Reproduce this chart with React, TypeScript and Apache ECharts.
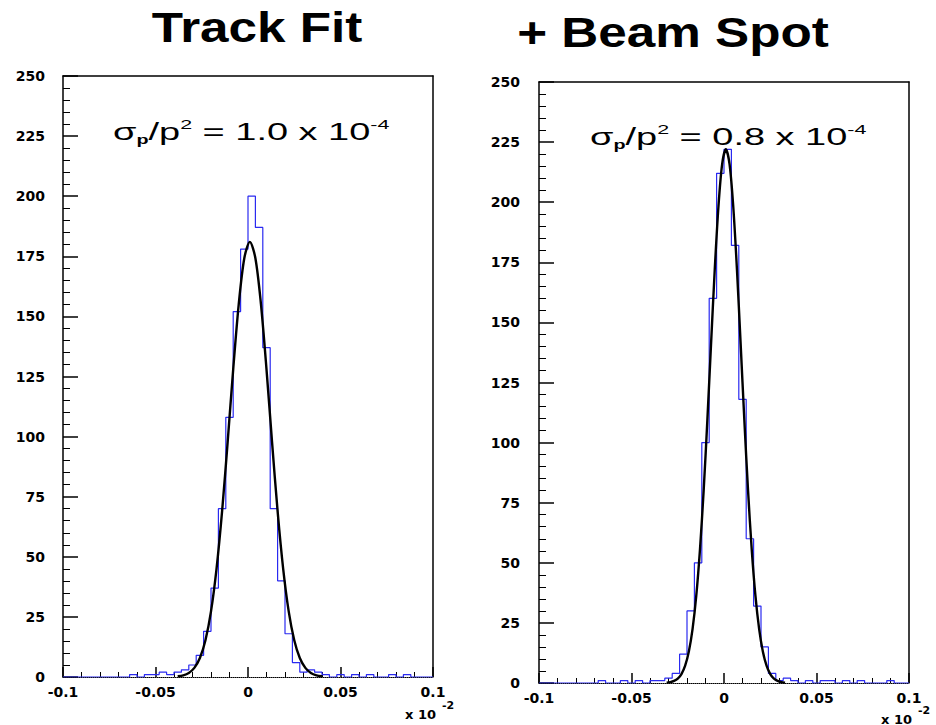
import React, { useEffect, useRef } from "react";
import * as echarts from "echarts";

// Histogram binning (x in units of 10^-2)
const BIN_START = -0.1;
const BIN_WIDTH = 0.004;

// Left panel: Track Fit histogram counts (50 bins)
const leftCounts = [
  0, 0, 0, 0, 0, 0, 0, 0, 0, 1,
  0, 1, 1, 2, 1, 2, 3, 5, 9, 19,
  37, 70, 108, 152, 178, 200, 187, 137, 70, 40,
  18, 6, 2, 3, 2, 1, 0, 1, 0, 1,
  0, 1, 0, 0, 1, 0, 1, 0, 0, 0,
];

// Right panel: + Beam Spot histogram counts (50 bins)
const rightCounts = [
  0, 0, 0, 0, 0, 0, 0, 0, 1, 0,
  0, 1, 0, 1, 0, 1, 1, 2, 4, 12,
  30, 50, 100, 160, 212, 222, 182, 118, 60, 32,
  15, 4, 1, 2, 1, 0, 1, 0, 1, 1,
  0, 1, 0, 1, 0, 0, 0, 1, 0, 0,
];

// Gaussian fit curves
const leftFitX = [
  -0.038, -0.035, -0.032, -0.029, -0.026, -0.023, -0.02, -0.017, -0.014, -0.011,
  -0.008, -0.005, -0.002, 0.001, 0.004, 0.007, 0.01, 0.013, 0.016, 0.019,
  0.022, 0.025, 0.028, 0.031, 0.034, 0.037, 0.04,
];
const leftFitY = [
  0.3, 0.7, 1.7, 3.8, 7.9, 15.3, 27.3, 45.1, 69, 97.7,
  128, 155.1, 174.2, 181, 174.2, 155.1, 128, 97.7, 69, 45.1,
  27.3, 15.3, 7.9, 3.8, 1.7, 0.7, 0.3,
];
const rightFitX = [
  -0.031, -0.029, -0.027, -0.025, -0.023, -0.021, -0.019, -0.017, -0.015, -0.013,
  -0.011, -0.009, -0.007, -0.005, -0.003, -0.001, 0.001, 0.003, 0.005, 0.007,
  0.009, 0.011, 0.013, 0.015, 0.017, 0.019, 0.021, 0.023, 0.025, 0.027,
  0.029, 0.031, 0.033,
];
const rightFitY = [
  0.16, 0.38, 0.86, 1.8, 3.7, 7.2, 13.1, 22.4, 36.2, 55.4,
  80, 109.3, 141, 172, 198.2, 215.8, 222, 215.8, 198.2, 172,
  141, 109.3, 80, 55.4, 36.2, 22.4, 13.1, 7.2, 3.7, 1.8,
  0.86, 0.38, 0.16,
];

const titles = ["Track Fit", "+ Beam Spot"];
const resolutions = ["1.0", "0.8"];

const X_MIN = -0.1;
const X_MAX = 0.1;
const X_INTERVAL = 0.05;
const Y_MIN = 0;
const Y_MAX = 250;
const Y_INTERVAL = 25;

function histPoints(counts: number[]) {
  const pts = counts.map((c, i) => [+(BIN_START + i * BIN_WIDTH).toFixed(4), c]);
  pts.push([+(BIN_START + counts.length * BIN_WIDTH).toFixed(4), counts[counts.length - 1]]);
  return pts;
}

const labelFont = {
  fontFamily: "DejaVu Sans",
  fontWeight: "bold" as const,
  fontSize: 14,
  color: "#000",
};

function mainX(gridIndex: number) {
  return {
    type: "value",
    gridIndex,
    min: X_MIN,
    max: X_MAX,
    interval: X_INTERVAL,
    position: "bottom",
    axisLine: { show: true, onZero: false, lineStyle: { color: "#000", width: 1, type: "dotted" } },
    axisTick: { show: true, inside: true, length: 10, lineStyle: { color: "#000", width: 1.5 } },
    minorTick: { show: true, splitNumber: 5, length: 5, lineStyle: { color: "#000", width: 1 } },
    axisLabel: { ...labelFont, margin: 8 },
    splitLine: { show: false },
  };
}
function frameX(gridIndex: number) {
  return {
    type: "value",
    gridIndex,
    min: X_MIN,
    max: X_MAX,
    position: "top",
    axisLine: { show: true, onZero: false, lineStyle: { color: "#000", width: 1.5 } },
    axisTick: { show: false },
    axisLabel: { show: false },
    splitLine: { show: false },
  };
}
function mainY(gridIndex: number, margin: number) {
  return {
    type: "value",
    gridIndex,
    min: Y_MIN,
    max: Y_MAX,
    interval: Y_INTERVAL,
    position: "left",
    axisLine: { show: true, onZero: false, lineStyle: { color: "#000", width: 1.5 } },
    axisTick: { show: true, inside: true, length: 15, lineStyle: { color: "#000", width: 1.5 } },
    minorTick: { show: true, splitNumber: 5, length: 7, lineStyle: { color: "#000", width: 1 } },
    axisLabel: { ...labelFont, margin },
    splitLine: { show: false },
  };
}
function frameY(gridIndex: number) {
  return {
    type: "value",
    gridIndex,
    min: Y_MIN,
    max: Y_MAX,
    position: "right",
    axisLine: { show: true, onZero: false, lineStyle: { color: "#000", width: 1.5 } },
    axisTick: { show: false },
    axisLabel: { show: false },
    splitLine: { show: false },
  };
}

const annFont = "Liberation Sans";
const annRich = {
  n: { fontFamily: annFont, fontSize: 23, fill: "#000", color: "#000" },
  sub: { fontFamily: annFont, fontSize: 12, fontWeight: "bold", fill: "#000", color: "#000", verticalAlign: "bottom", lineHeight: 28 },
  sup: { fontFamily: annFont, fontSize: 13, fill: "#000", color: "#000", verticalAlign: "top", lineHeight: 28 },
};

function annotation(x: number, y: number, value: string) {
  return {
    type: "text",
    x,
    y,
    scaleX: 1.65,
    style: {
      text: `{n|σ}{sub|p}{n|/p}{sup|2}{n| = ${value} x 10}{sup|-4}`,
      rich: annRich,
      align: "left",
      verticalAlign: "middle",
      fill: "#000",
    },
  };
}

function title(x: number, y: number, text: string) {
  return {
    type: "text",
    x,
    y,
    scaleX: 1.22,
    style: {
      text,
      fontFamily: "Liberation Sans",
      fontWeight: "bold",
      fontSize: 42,
      fill: "#000",
      align: "center",
      verticalAlign: "middle",
    },
  };
}

function scaleLabel(x: number, y: number) {
  return {
    type: "text",
    x,
    y,
    style: {
      text: "{a|x 10}{s|-2}",
      rich: {
        a: { fontFamily: "DejaVu Sans", fontWeight: "bold", fontSize: 13, fill: "#000", color: "#000" },
        s: { fontFamily: "DejaVu Sans", fontWeight: "bold", fontSize: 11, fill: "#000", color: "#000", verticalAlign: "top", lineHeight: 28, padding: [0, 0, 0, 6] },
      },
      align: "left",
      verticalAlign: "middle",
      fill: "#000",
    },
  };
}

export default function App() {
  const ref = useRef<HTMLDivElement>(null);
  useEffect(() => {
    if (!ref.current) return;
    const chart = echarts.init(ref.current, null, { renderer: "svg" });
    const histStyle = { color: "#2a2af0", width: 1.2 };
    const fitStyle = { color: "#000", width: 2.4 };
    chart.setOption({
      animation: false,
      backgroundColor: "#fff",
      grid: [
        { left: 63, top: 76, width: 370, height: 601 },
        { left: 539, top: 82, width: 370, height: 601 },
      ],
      xAxis: [mainX(0), frameX(0), mainX(1), frameX(1)],
      yAxis: [mainY(0, 18), frameY(0), mainY(1, 19), frameY(1)],
      series: [
        {
          type: "line",
          xAxisIndex: 0,
          yAxisIndex: 0,
          step: "end",
          symbol: "none",
          lineStyle: histStyle,
          data: histPoints(leftCounts),
        },
        {
          type: "line",
          xAxisIndex: 0,
          yAxisIndex: 0,
          smooth: 0.3,
          symbol: "none",
          lineStyle: fitStyle,
          data: leftFitX.map((x, i) => [x, leftFitY[i]]),
        },
        {
          type: "line",
          xAxisIndex: 2,
          yAxisIndex: 2,
          step: "end",
          symbol: "none",
          lineStyle: histStyle,
          data: histPoints(rightCounts),
        },
        {
          type: "line",
          xAxisIndex: 2,
          yAxisIndex: 2,
          smooth: 0.3,
          symbol: "none",
          lineStyle: fitStyle,
          data: rightFitX.map((x, i) => [x, rightFitY[i]]),
        },
      ],
      graphic: [
        title(257, 28, titles[0]),
        title(673, 33, titles[1]),
        annotation(113, 132, resolutions[0]),
        annotation(590, 137, resolutions[1]),
        scaleLabel(405, 714),
        scaleLabel(881, 719),
      ],
    });
    return () => chart.dispose();
  }, []);
  return (
    <div
      ref={ref}
      style={{ position: "absolute", left: 0, top: 0, width: 936, height: 725, background: "#fff" }}
    />
  );
}
